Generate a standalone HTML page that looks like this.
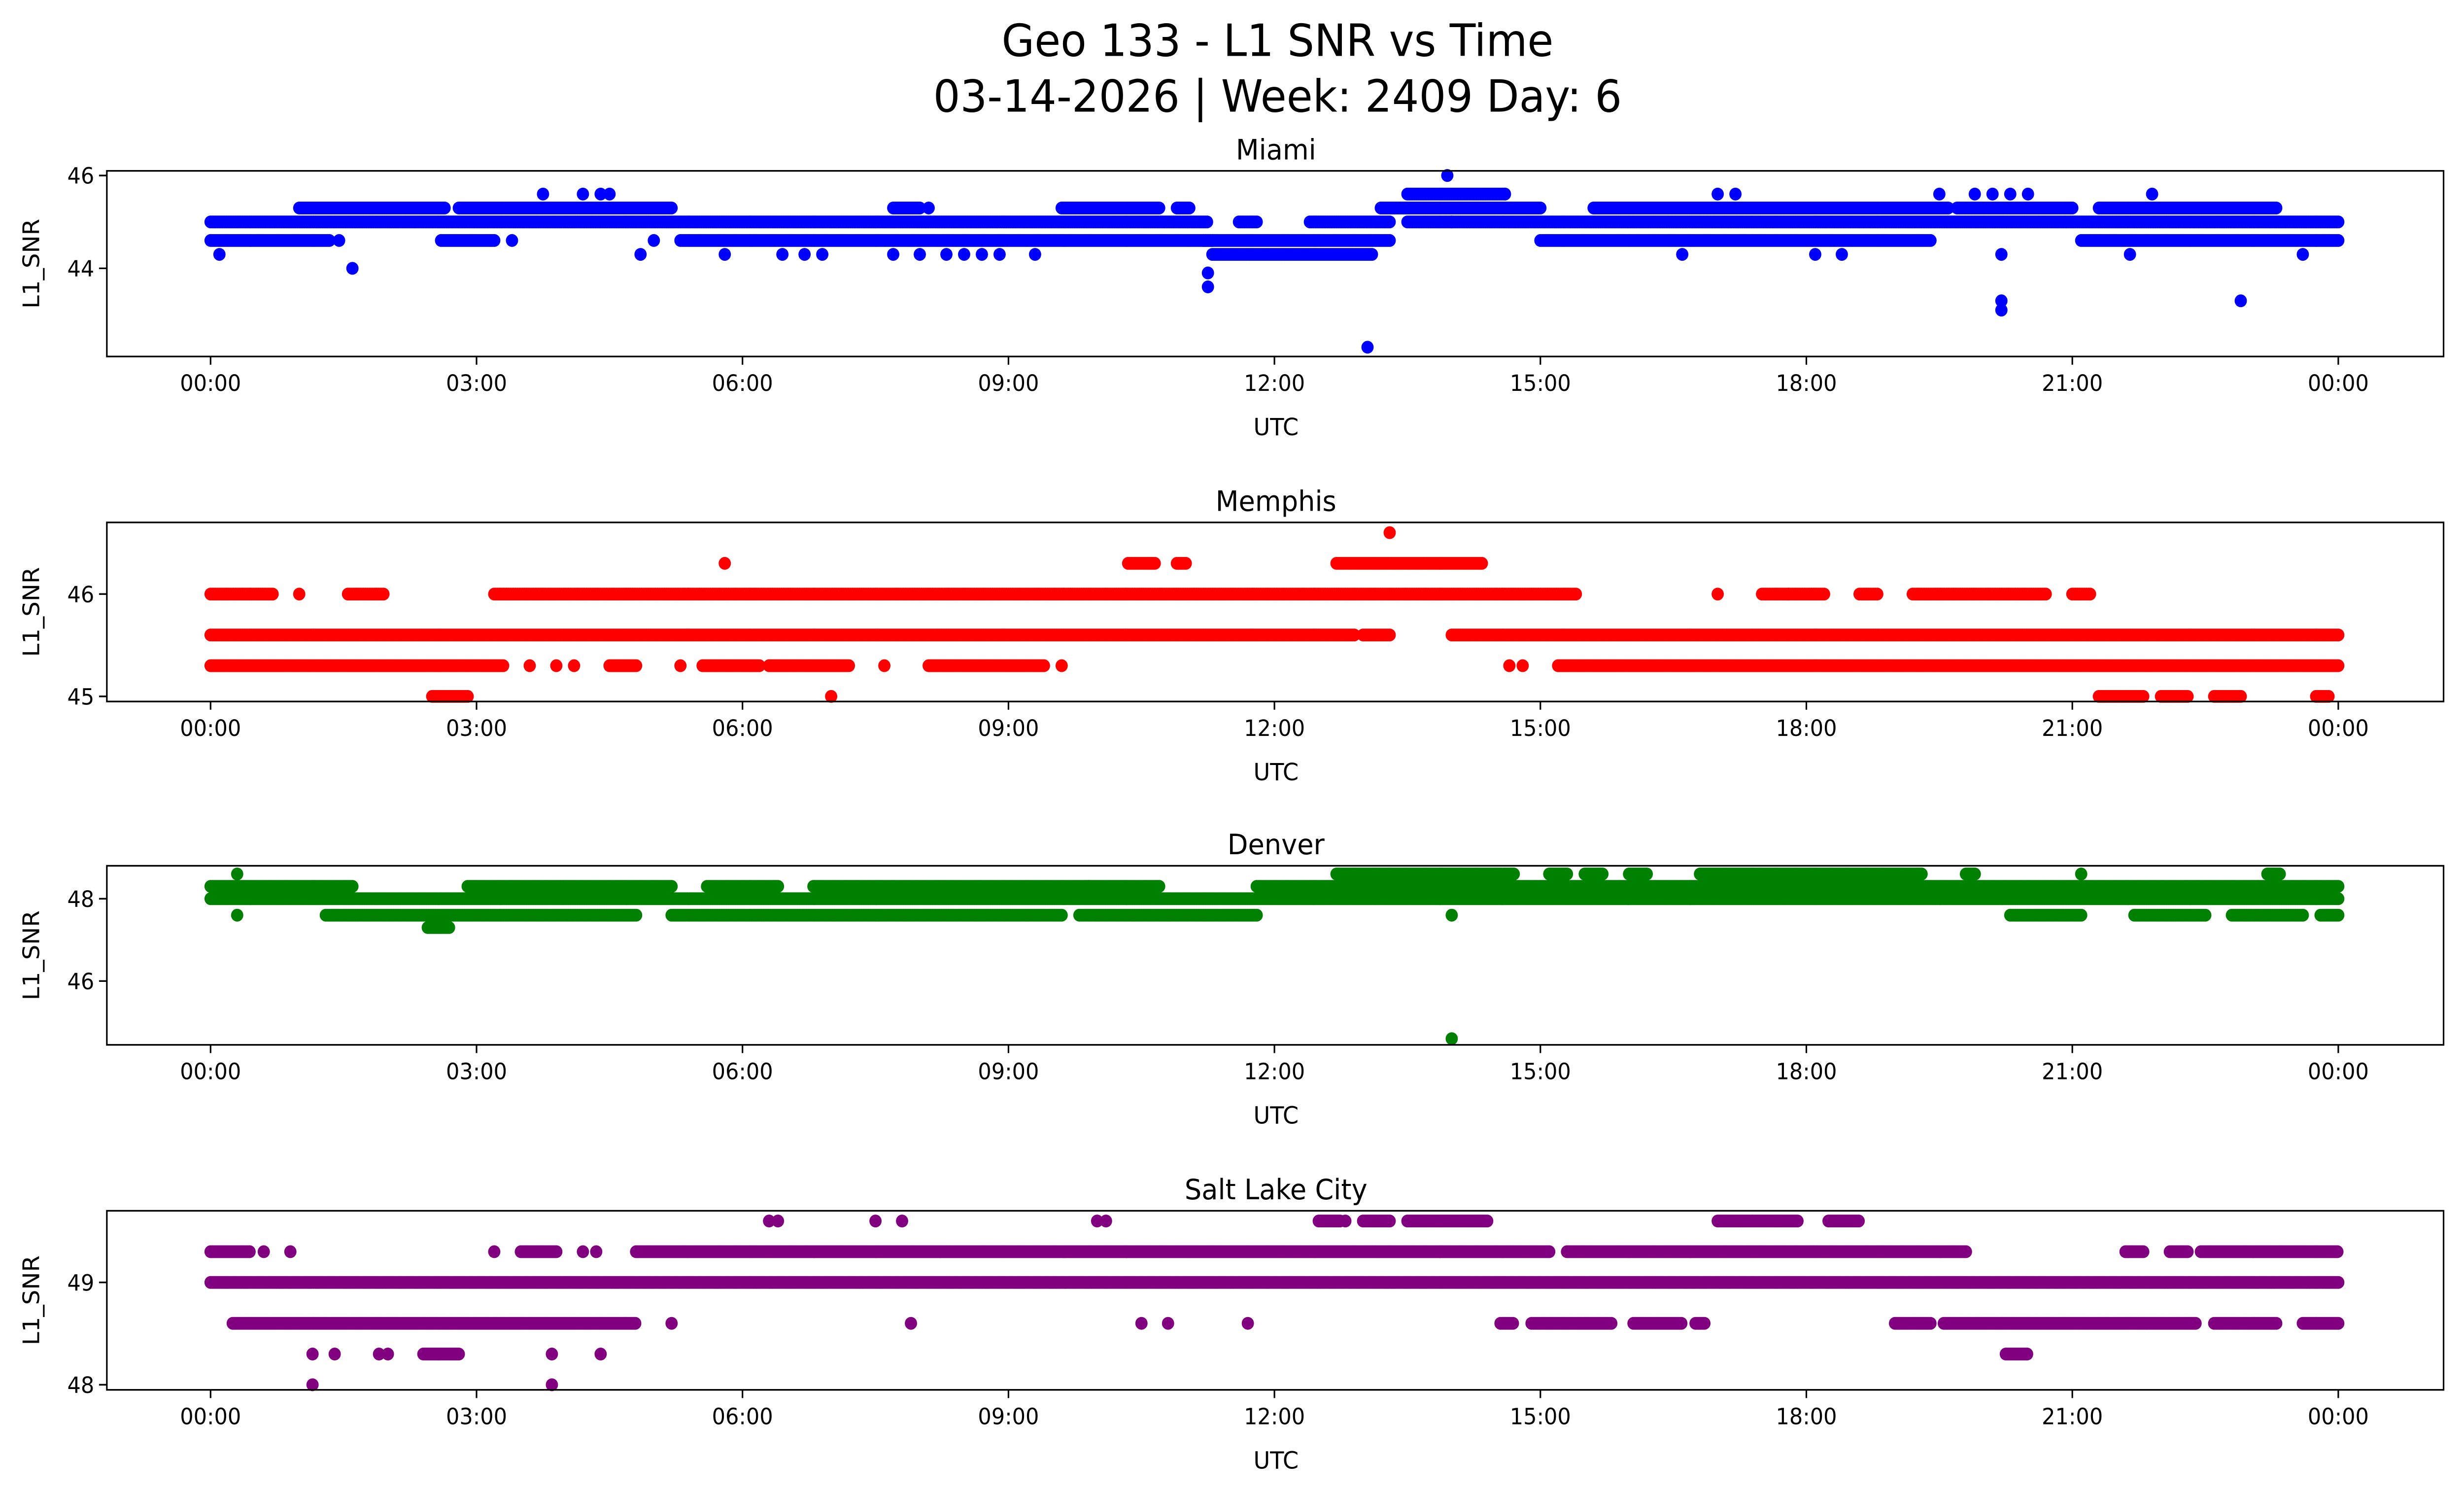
<!DOCTYPE html>
<html><head><meta charset="utf-8"><style>
html,body{margin:0;padding:0;background:#fff;overflow:hidden;width:100%;height:100%;}
svg{display:block;position:absolute;left:0;top:0;width:100vw;height:100vh;font-family:"DejaVu Sans","Liberation Sans",sans-serif;}
</style></head><body>
<svg id="fig" viewBox="0 0 1568 910" preserveAspectRatio="none" xmlns="http://www.w3.org/2000/svg">
<rect x="0" y="0" width="1568" height="910" fill="#fff"/>
<text x="813" y="34" font-size="27" text-anchor="middle">Geo 133 - L1 SNR vs Time</text>
<text x="813" y="68" font-size="27" text-anchor="middle">03-14-2026 | Week: 2409 Day: 6</text>
</svg>
<script>
const xTickLabels = ["00:00","03:00","06:00","09:00","12:00","15:00","18:00","21:00","00:00"];
const xTickHours = [0,3,6,9,12,15,18,21,24];
const panelNames = ["Miami","Memphis","Denver","Salt Lake City"];
const panelColors = ["#0000ff","#ff0000","#008000","#800080"];

// runs: [value, startHour, endHour]
const miamiRuns = [[45.0,0,11.25],[45.0,11.6,11.8],[45.0,12.4,13.3],[45.0,13.5,24],
 [44.6,0,1.35],[44.6,1.45,1.45],[44.6,2.6,3.2],[44.6,5.3,11.3],[44.6,11.2,13.3],[44.6,15.0,19.4],[44.6,21.1,24],
 [45.3,1.0,2.65],[45.3,2.8,5.2],[45.3,7.7,8.0],[45.3,9.6,10.7],[45.3,10.9,11.05],[45.3,13.2,15.0],[45.3,15.6,19.6],[45.3,19.7,21.0],[45.3,21.3,23.3],
 [45.6,13.5,14.6],[44.3,11.3,13.1]];
const miamiPts = [[0.1,44.3],[1.6,44.0],[3.4,44.6],[3.75,45.6],[4.2,45.6],[4.4,45.6],[4.5,45.6],[4.85,44.3],[5.0,44.6],[5.8,44.3],[6.45,44.3],[6.7,44.3],[6.9,44.3],[7.7,44.3],[8.0,44.3],[8.1,45.3],[8.3,44.3],[8.5,44.3],[8.7,44.3],[8.9,44.3],[9.3,44.3],[11.25,43.9],[11.25,43.6],[13.05,42.3],[13.95,46.0],[14.0,45.0],[14.6,45.6],[16.6,44.3],[17.0,45.6],[17.2,45.6],[18.1,44.3],[18.4,44.3],[19.5,45.6],[19.9,45.6],[20.1,45.6],[20.3,45.6],[20.5,45.6],[20.2,44.3],[20.2,43.3],[20.2,43.1],[21.65,44.3],[21.9,45.6],[22.9,43.3],[23.6,44.3]];

const memphisRuns = [[45.6,0,12.9],[45.6,13.0,13.3],[45.6,14.0,24],
 [45.3,0,3.3],[45.3,4.5,4.8],[45.3,5.55,6.2],[45.3,6.3,7.2],[45.3,8.1,9.4],[45.3,15.2,24],
 [46.0,0,0.7],[46.0,1.55,1.95],[46.0,3.2,15.4],[46.0,17.5,17.8],[46.0,17.8,18.2],[46.0,18.6,18.8],[46.0,19.2,20.7],[46.0,21.0,21.2],
 [46.3,10.35,10.65],[46.3,10.9,11.0],[46.3,12.7,14.35],
 [45.0,2.5,2.9],[45.0,21.3,21.8],[45.0,22.0,22.3],[45.0,22.6,22.9],[45.0,23.75,23.9]];
const memphisPts = [[1.0,46.0],[5.8,46.3],[13.3,46.6],[3.6,45.3],[3.9,45.3],[4.1,45.3],[5.3,45.3],[7.6,45.3],[9.6,45.3],[14.65,45.3],[14.8,45.3],[17.0,46.0],[7.0,45.0]];

const denverRuns = [[48.0,0,24],
 [48.3,0,1.6],[48.3,2.9,5.2],[48.3,5.6,6.4],[48.3,6.8,9.9],[48.3,9.9,10.7],[48.3,11.8,24],
 [47.6,1.3,4.8],[47.6,5.2,9.6],[47.6,9.8,11.8],[47.6,20.3,21.1],[47.6,21.7,22.5],[47.6,22.8,23.6],[47.6,23.8,24],
 [48.6,12.7,14.7],[48.6,15.1,15.3],[48.6,15.5,15.7],[48.6,16.0,16.2],[48.6,16.8,19.3],[48.6,19.8,19.9],[48.6,23.2,23.35],
 [47.3,2.45,2.7]];
const denverPts = [[0.3,48.6],[0.3,47.6],[14.0,47.6],[14.0,44.6],[21.1,48.6]];

const slcRuns = [[49.0,0,24],
 [48.6,0.25,4.8],[48.6,14.55,14.7],[48.6,14.9,15.8],[48.6,16.05,16.6],[48.6,16.75,16.85],[48.6,19.0,19.4],[48.6,19.55,22.4],[48.6,22.6,23.3],[48.6,23.6,24],
 [49.3,0,0.45],[49.3,3.5,3.9],[49.3,4.8,15.1],[49.3,15.3,19.8],[49.3,21.6,21.8],[49.3,22.1,22.3],[49.3,22.45,24],
 [49.6,12.5,12.75],[49.6,13.0,13.3],[49.6,13.5,14.4],[49.6,17.0,17.9],[49.6,18.25,18.6],
 [48.3,2.4,2.8],[48.3,20.25,20.5]];
const slcPts = [[0.6,49.3],[0.9,49.3],[3.2,49.3],[4.2,49.3],[4.35,49.3],[5.2,48.6],[7.9,48.6],[10.5,48.6],[10.8,48.6],[11.7,48.6],[6.3,49.6],[6.4,49.6],[7.5,49.6],[7.8,49.6],[10.0,49.6],[10.1,49.6],[12.8,49.6],[1.15,48.3],[1.4,48.3],[1.9,48.3],[2.0,48.3],[3.85,48.3],[4.4,48.3],[1.15,48.0],[3.85,48.0]];

const yTicks = [[44,46],[45,46],[46,48],[48,49]];
const yDomains = [[42.1,46.1],[44.95,46.7],[44.45,48.8],[47.95,49.7]];
const runsAll = [miamiRuns,memphisRuns,denverRuns,slcRuns];
const ptsAll = [miamiPts,memphisPts,denverPts,slcPts];

const NS = "http://www.w3.org/2000/svg";
const svg = document.getElementById('fig');
const AX_L = 68, AX_R = 1555;
const tops = [104,318,527,737], bots = [217,427,636,846];
function xScale(h){ return 134 + h*(1488-134)/24; }
function mk(tag, attrs, parent){ const e=document.createElementNS(NS,tag); for(const k in attrs) e.setAttribute(k,attrs[k]); (parent||svg).appendChild(e); return e; }

for(let p=0;p<4;p++){
  const g = mk('g',{});
  
  
  const top=tops[p], bot=bots[p], d=yDomains[p];
  const yScale = v => bot - (v-d[0])/(d[1]-d[0])*(bot-top);
  const pts = mk('g',{fill:panelColors[p]},g);
  
  
  const step=0.02;
  for(const r of runsAll[p]){
    for(let t=r[1]; t<=r[2]+1e-9; t+=step){
      const c = mk('circle',{cx:xScale(t).toFixed(2),cy:yScale(r[0]).toFixed(2),r:3.9},pts);
      
      
    }
  }
  for(const q of ptsAll[p]){
    const c = mk('circle',{cx:xScale(q[0]).toFixed(2),cy:yScale(q[1]).toFixed(2),r:3.9},pts);
    
    
  }
  const frame = mk('rect',{x:AX_L,y:top,width:AX_R-AX_L,height:bot-top,fill:'none',stroke:'#000','stroke-width':1},g);
  
  
  for(let i=0;i<xTickHours.length;i++){
    const x=xScale(xTickHours[i]);
    mk('line',{x1:x,x2:x,y1:bot,y2:bot+5,stroke:'#000','stroke-width':1},g);
    const t = mk('text',{x:x,y:bot+21,'font-size':13.5,'text-anchor':'middle'},g);
    t.textContent = xTickLabels[i];
    
    
  }
  for(const v of yTicks[p]){
    const y=yScale(v);
    mk('line',{x1:AX_L-5,x2:AX_L,y1:y,y2:y,stroke:'#000','stroke-width':1},g);
    const t = mk('text',{x:AX_L-8,y:y+5,'font-size':13.5,'text-anchor':'end'},g);
    t.textContent = String(v);
    
    
  }
  const xt = mk('text',{x:812,y:bot+48,'font-size':14.5,'text-anchor':'middle'},g);
  xt.textContent='UTC';
  
  
  const cy=(top+bot)/2;
  const yt = mk('text',{x:25,y:cy,'font-size':14.5,'text-anchor':'middle',transform:'rotate(-90 25 '+cy+')'},g);
  yt.textContent='L1_SNR';
  
  
  const pt = mk('text',{x:812,y:top-7,'font-size':17,'text-anchor':'middle'},g);
  pt.textContent=panelNames[p];
  
  
}
</script>
</body></html>
